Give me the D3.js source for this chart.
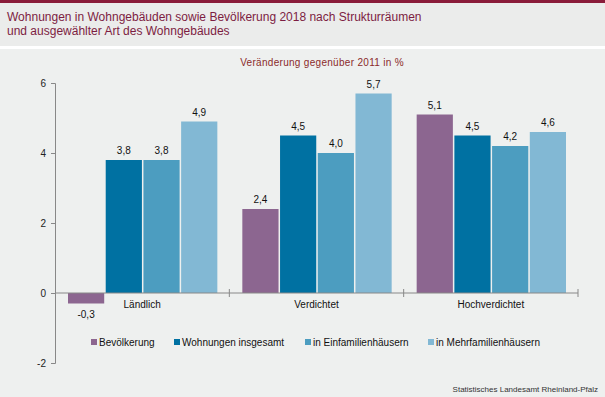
<!DOCTYPE html>
<html lang="de">
<head>
<meta charset="UTF-8">
<title>Wohnungen und Bevölkerung 2018</title>
<style>
  html, body { margin: 0; padding: 0; background: #eef0ef; }
  text { font-family: "Liberation Sans", Arial, sans-serif; }
</style>
</head>
<body>
<script src="https://cdn.jsdelivr.net/npm/d3@7"></script>
<script>
// Daten
var regions = ["Ländlich", "Verdichtet", "Hochverdichtet"];
var seriesNames = ["Bevölkerung", "Wohnungen insgesamt", "in Einfamilienhäusern", "in Mehrfamilienhäusern"];
var bevoelkerung = [-0.3, 2.4, 5.1];
var wohnungen = [3.8, 4.5, 4.5];
var einfamilien = [3.8, 4.0, 4.2];
var mehrfamilien = [4.9, 5.7, 4.6];
var yTicks = [-2, 0, 2, 4, 6];
var colors = ["#8c6690", "#0071a2", "#4c9dc0", "#82b8d4"];

var W = 605, H = 397;
var plot = { left: 55, right: 578, top: 83, bottom: 363 };

var svg = d3.select("body").append("svg").attr("width", W).attr("height", H);

// Hintergrund
svg.append("rect").attr("width", W).attr("height", H).attr("fill", "#eef0ef");
svg.append("rect").attr("width", W).attr("height", 46).attr("fill", "#ebeceb");
svg.append("rect").attr("y", 46).attr("width", W).attr("height", 3).attr("fill", "#fff");
svg.append("rect").attr("width", W).attr("height", 3).attr("fill", "#8a1c3a");

// Titel
var title = svg.append("text").attr("x", 7).attr("fill", "#7d1d42").style("font-size", "12px");
title.append("tspan").attr("x", 7).attr("y", 21).text("Wohnungen in Wohngebäuden sowie Bevölkerung 2018 nach Strukturräumen");
title.append("tspan").attr("x", 7).attr("y", 35).text("und ausgewählter Art des Wohngebäudes");

svg.append("text").attr("x", 322).attr("y", 66).attr("text-anchor", "middle")
  .attr("fill", "#8b2b2b").style("font-size", "10px").style("letter-spacing", "0.3px")
  .text("Veränderung gegenüber 2011 in %");

// Skalen
var y = d3.scaleLinear().domain([-2, 6]).range([plot.bottom, plot.top]);
var x0 = d3.scaleBand().domain(regions).range([plot.left, plot.right]);
var x1 = d3.scaleBand().domain(seriesNames).range([13, x0.bandwidth() - 12]).paddingInner(0.04);

var table = regions.map(function (r, i) {
  return { region: r, values: [bevoelkerung[i], wohnungen[i], einfamilien[i], mehrfamilien[i]] };
});

var fmt = function (v) { return d3.format(".1f")(v).replace(".", ",").replace("−", "-"); };

// Balken
var groups = svg.selectAll(".grp").data(table).enter().append("g")
  .attr("transform", function (d) { return "translate(" + x0(d.region) + ",0)"; });

groups.selectAll("rect").data(function (d) {
  return d.values.map(function (v, j) { return { name: seriesNames[j], value: v, j: j }; });
}).enter().append("rect")
  .attr("x", function (d) { return x1(d.name); })
  .attr("width", x1.bandwidth())
  .attr("y", function (d) { return y(Math.max(0, d.value)); })
  .attr("height", function (d) { return Math.abs(y(d.value) - y(0)); })
  .attr("fill", function (d) { return colors[d.j]; });

groups.selectAll(".lbl").data(function (d) {
  return d.values.map(function (v, j) { return { name: seriesNames[j], value: v }; });
}).enter().append("text")
  .attr("x", function (d) { return x1(d.name) + x1.bandwidth() / 2; })
  .attr("y", function (d) { return d.value >= 0 ? y(d.value) - 6 : y(d.value) + 14; })
  .attr("text-anchor", "middle").attr("fill", "#111").style("font-size", "10px")
  .text(function (d) { return fmt(d.value); });

// Y-Achse
var yAxis = svg.append("g").attr("transform", "translate(" + plot.left + ",0)")
  .call(d3.axisLeft(y).tickValues(yTicks).tickSize(4).tickPadding(5).tickFormat(function (d) { return d; }));
yAxis.select(".domain").attr("stroke", "#888");
yAxis.selectAll(".tick line").attr("stroke", "#888");
yAxis.selectAll(".tick text").attr("fill", "#222").style("font-size", "10px").style("font-family", "Liberation Sans, Arial, sans-serif");

// X-Achse bei 0
svg.append("line").attr("x1", plot.left).attr("x2", plot.right).attr("y1", y(0)).attr("y2", y(0)).attr("stroke", "#888");
var bounds = regions.map(function (r) { return x0(r) + x0.bandwidth(); });
svg.selectAll(".xt").data(bounds).enter().append("line")
  .attr("x1", function (d) { return d; }).attr("x2", function (d) { return d; })
  .attr("y1", y(0) - 4).attr("y2", y(0) + 4).attr("stroke", "#888");

svg.selectAll(".cat").data(regions).enter().append("text")
  .attr("x", function (d) { return x0(d) + x0.bandwidth() / 2; })
  .attr("y", y(0) + 15).attr("text-anchor", "middle").attr("fill", "#111").style("font-size", "10px")
  .text(function (d) { return d; });

// Legende
var legendX = [91, 174, 305, 428];
var leg = svg.selectAll(".leg").data(seriesNames).enter().append("g")
  .attr("transform", function (d, i) { return "translate(" + legendX[i] + ",342)"; });
leg.append("rect").attr("x", 0).attr("y", -3).attr("width", 6).attr("height", 6)
  .attr("fill", function (d, i) { return colors[i]; });
leg.append("text").attr("x", 8).attr("y", 3.5).attr("fill", "#111").style("font-size", "10px")
  .text(function (d) { return d; });

// Quelle
svg.append("text").attr("x", 598).attr("y", 392).attr("text-anchor", "end")
  .attr("fill", "#333").style("font-size", "8px").text("Statistisches Landesamt Rheinland-Pfalz");
</script>
</body>
</html>
